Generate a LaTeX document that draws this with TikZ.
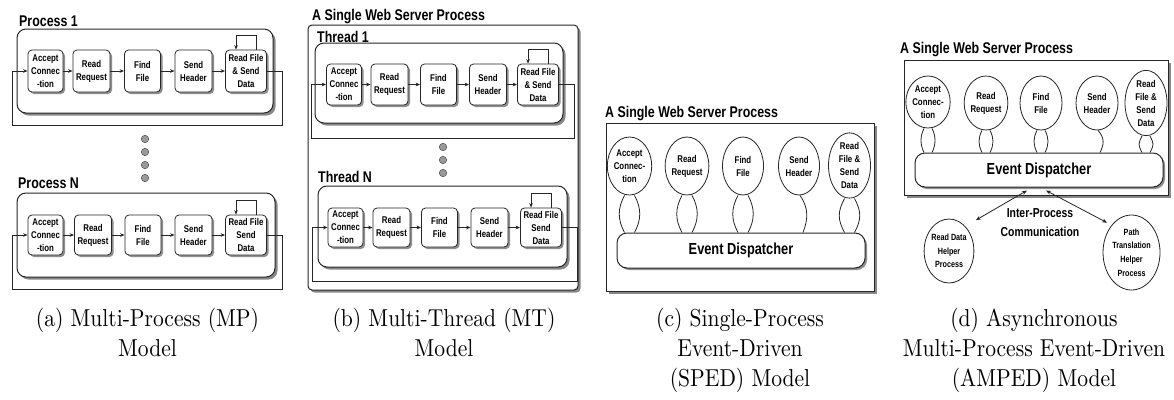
\documentclass[tikz,border=0pt]{standalone}
\usepackage{fontspec}
\newfontfamily\lab{Liberation Sans}[FakeStretch=0.8]
\newfontfamily\capf{lmroman10-regular}[Extension=.otf,FakeStretch=0.88]
\usetikzlibrary{shapes.geometric,shadows,arrows.meta,calc}
\tikzset{
 ln/.style={draw=black!85,line width=0.8pt},
 arr/.style={ln,-{Stealth[length=4.5pt,width=3.6pt]}},
 darr/.style={ln,{Stealth[length=5pt,width=4pt]}-{Stealth[length=5pt,width=4pt]}},
 shd/.style={drop shadow={shadow xshift=2pt,shadow yshift=-2pt,fill=black!55,opacity=0.8}},
 sbox/.style={ln,fill=white,rounded corners=4pt,inner sep=0pt,align=center,font=\lab\bfseries\fontsize{9.8}{13}\selectfont,shd},
 bigbox/.style={ln,line width=1pt,fill=white,rounded corners=9pt,inner sep=0pt,drop shadow={shadow xshift=2.5pt,shadow yshift=-2.5pt,fill=black!55,opacity=0.85}},
 panelframe/.style={ln,line width=1pt,fill=white,inner sep=0pt,drop shadow={shadow xshift=2.5pt,shadow yshift=-2.5pt,fill=black!55,opacity=0.85}},
 ttl/.style={font=\lab\bfseries\fontsize{15.5}{18}\selectfont,inner sep=0pt,anchor=base west},
 ell/.style={ellipse,ln,fill=white,inner sep=0pt,align=center,font=\lab\bfseries\fontsize{9.8}{13}\selectfont},
 hell/.style={ellipse,ln,fill=white,inner sep=0pt,align=center,font=\lab\bfseries\fontsize{9}{13.7}\selectfont},
 disp/.style={ln,line width=1pt,fill=white,rounded corners=10pt,inner sep=0pt,font=\lab\bfseries\fontsize{16}{19}\selectfont,shd},
 captxt/.style={font=\capf\fontsize{24.5}{30}\selectfont,align=center,inner sep=0pt,anchor=north},
 dot/.style={circle,draw=black!75,fill=black!40,minimum size=7.5pt,inner sep=0pt},
}
% #1 prefix, #2 y centre, #3 height, #4-#8 x centres, #9 text of last box
\newcommand\myrow[9]{%
 \node[sbox,minimum width=35pt,minimum height=#3] (#1b1) at (#4,#2) {Accept\\Connec\\-tion};
 \node[sbox,minimum width=37pt,minimum height=#3] (#1b2) at (#5,#2) {Read\\Request};
 \node[sbox,minimum width=36pt,minimum height=#3] (#1b3) at (#6,#2) {Find\\File};
 \node[sbox,minimum width=37pt,minimum height=#3] (#1b4) at (#7,#2) {Send\\Header};
 \node[sbox,minimum width=41pt,minimum height=#3] (#1b5) at (#8,#2) {#9};
 \draw[arr] (#1b1) -- (#1b2);
 \draw[arr] (#1b2) -- (#1b3);
 \draw[arr] (#1b3) -- (#1b4);
 \draw[arr] (#1b4) -- (#1b5);
 \draw[arr] (#1b5.east) -- ++(15,0) -- ++(0,54) -| ([xshift=-15pt]#1b1.west) -- (#1b1.west);
 \draw[arr] ([xshift=10pt]#1b5.north) -- ++(0,-14) -| ([xshift=-10pt]#1b5.north);
}
% #1 ellipse, #2 dispatcher, #3 control dy, #4 half width at ends, #5 bulge
\newcommand\lens[5]{%
 \draw[ln] ($(#1.south)+(-#4,0)$) .. controls +(-#5,#3) and +(-#5,-#3) .. ($(#1.south |- #2.north)+(-#4,0)$);
 \draw[ln] ($(#1.south)+(#4,0)$) .. controls +(#5,#3) and +(#5,-#3) .. ($(#1.south |- #2.north)+(#4,0)$);
}
\begin{document}
\begin{tikzpicture}[x=1pt,y=-1pt]
\fill[white] (0,0) rectangle (1174,399);
\useasboundingbox (0,0) rectangle (1174,399);

% ---------- (a) Multi-Process ----------
\node[ttl] (pat) at (19,26) {Process 1};
\node[bigbox,minimum width=256pt,minimum height=84pt] (pabox) at (145,71) {};
\myrow{pa}{71}{42pt}{45.5}{91.5}{142.5}{193.5}{246}{Read File\\\& Send\\Data}
\node[dot] (ad1) at (145,139) {};
\node[dot] (ad2) at (145,152) {};
\node[dot] (ad3) at (145,165) {};
\node[dot] (ad4) at (145,178) {};
\node[ttl] (pbt) at (18,188) {Process N};
\node[bigbox,minimum width=258pt,minimum height=84pt] (pbbox) at (146,235) {};
\myrow{pb}{235}{40pt}{45.5}{93}{143}{193.5}{246}{Read File\\Send\\Data}

% ---------- (b) Multi-Thread ----------
\node[ttl] (bt) at (312,20) {A Single Web Server Process};
\node[panelframe,rounded corners=4pt,minimum width=270pt,minimum height=265pt] (bbox) at (443,157.5) {};
\node[bigbox,minimum width=248pt,minimum height=80pt] (pcbox) at (439,83) {};
\node[ttl] (pct) at (317,42.5) {Thread 1};
\myrow{pc}{84.5}{41pt}{344}{389.5}{438.5}{488}{538}{Read File\\\& Send\\Data}
\node[dot] (bd1) at (443,147) {};
\node[dot] (bd2) at (443,160) {};
\node[dot] (bd3) at (443,173) {};
\node[bigbox,minimum width=249pt,minimum height=81pt] (pdbox) at (442.5,226.5) {};
\node[ttl] (pdt) at (318,182) {Thread N};
\myrow{pd}{227.5}{39pt}{345.5}{391.5}{439.5}{489.5}{541}{Read File\\Send\\Data}

% ---------- (c) SPED ----------
\node[ttl] (ct) at (605,117) {A Single Web Server Process};
\node[panelframe,minimum width=268pt,minimum height=168pt] (cbox) at (740,207) {};
\node[disp,minimum width=248pt,minimum height=35pt] (cd) at (741,250.5) {Event Dispatcher};
\node[ell,minimum width=36pt,minimum height=58pt] (c1) at (629.5,166) {Accept\\Connec-\\tion};
\node[ell,minimum width=40pt,minimum height=58pt] (c2) at (687,166) {Read\\Request};
\node[ell,minimum width=41pt,minimum height=58pt] (c3) at (743,166) {Find\\File};
\node[ell,minimum width=41pt,minimum height=58pt] (c4) at (799,166) {Send\\Header};
\node[ell,minimum width=42pt,minimum height=57pt] (c5) at (849.5,165.5) {Read\\File \&\\Send\\Data};
\lens{c1}{cd}{13}{5}{7}
\lens{c2}{cd}{13}{5}{7}
\lens{c3}{cd}{13}{5}{7}
\lens{c5}{cd}{13}{5}{7}
\draw[ln] ($(c4.south)+(1,0)$) .. controls +(9,13) and +(5,-13) .. ($(c4.south |- cd.north)+(4,0)$);

% ---------- (d) AMPED ----------
\node[ttl] (dt) at (900,53) {A Single Web Server Process};
\node[panelframe,minimum width=264pt,minimum height=135pt] (dbox) at (1036,127.5) {};
\node[disp,minimum width=248pt,minimum height=34pt] (dd) at (1039,170) {Event Dispatcher};
\node[ell,minimum width=36pt,minimum height=52pt] (d1) at (928,102) {Accept\\Connec-\\tion};
\node[ell,minimum width=42pt,minimum height=54pt] (d2) at (986,103) {Read\\Request};
\node[ell,minimum width=42pt,minimum height=54pt] (d3) at (1041,103) {Find\\File};
\node[ell,minimum width=42pt,minimum height=54pt] (d4) at (1097,103) {Send\\Header};
\node[ell,minimum width=42pt,minimum height=54pt] (d5) at (1146,103) {Read\\File \&\\Send\\Data};
\lens{d1}{dd}{8}{4}{4}
\lens{d2}{dd}{8}{4}{4}
\lens{d3}{dd}{8}{4}{4}
\lens{d5}{dd}{8}{4}{4}
\draw[ln] ($(d4.south)+(1,0)$) .. controls +(7,8) and +(4,-8) .. ($(d4.south |- dd.north)+(3,0)$);
\node[hell,minimum width=48pt,minimum height=64pt] (h1) at (949,251) {Read Data\\Helper\\Process};
\node[hell,minimum width=57pt,minimum height=75pt] (h2) at (1131.5,252.5) {Path\\Translation\\Helper\\Process};
\coordinate (h1t) at ($(h1.north east)+(9,-8)$);
\coordinate (h2t) at ($(h2.north west)+(-4,-3)$);
\draw[darr] ($(dd.south)+(-12,3)$) -- (h1t);
\draw[darr] ($(dd.south)+(7,3)$) -- (h2t);
\node[align=center,inner sep=0pt,font=\lab\bfseries\fontsize{13}{19}\selectfont] (ipc) at (1040,222.5) {Inter-Process\\Communication};

% ---------- captions ----------
\node[captxt] (capa) at (147.5,307.5) {(a) Multi-Process (MP)\\Model};
\node[captxt] (capb) at (444,307.5) {(b) Multi-Thread (MT)\\Model};
\node[captxt] (capc) at (740,307.5) {(c) Single-Process\\Event-Driven\\(SPED) Model};
\node[captxt] (capd) at (1034,307.5) {(d) Asynchronous\\Multi-Process Event-Driven\\(AMPED) Model};
\end{tikzpicture}
\end{document}
